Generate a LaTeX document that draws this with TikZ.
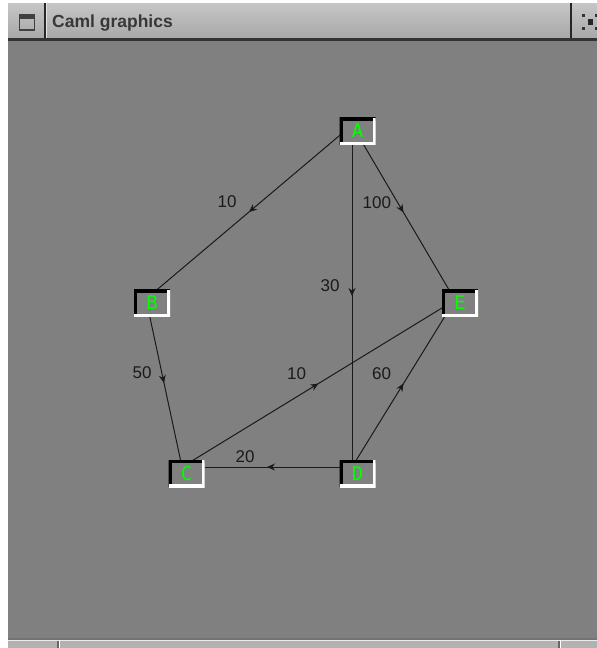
\documentclass[tikz,border=0pt]{standalone}
\usepackage{fontspec}
\setmainfont{Liberation Sans}
\newfontfamily\vertexfont{DejaVu Sans Mono}
\usetikzlibrary{arrows.meta,decorations.markings}

\definecolor{canvasgray}{HTML}{808080}
\definecolor{bartop}{HTML}{C6C6C6}
\definecolor{barbottom}{HTML}{A8A8A8}
\definecolor{bargray}{HTML}{B2B2B2}
\definecolor{nodegreen}{HTML}{00FF00}
\definecolor{inkgray}{HTML}{1A1A1A}
\definecolor{titleink}{HTML}{383838}

\tikzset{
  vertex/.style={fill=canvasgray, minimum width=36pt, minimum height=27pt, inner sep=0pt,
    text=nodegreen, font=\vertexfont\fontsize{19}{19}\selectfont,
    path picture={
      \draw[black, line width=6pt] (path picture bounding box.south west) -- (path picture bounding box.north west) -- (path picture bounding box.north east);
      \draw[white, line width=6pt] (path picture bounding box.north east) -- (path picture bounding box.south east) -- (path picture bounding box.south west);
    }},
  link/.style={draw=inkgray, line width=1pt, postaction={decorate},
    decoration={markings, mark=at position 0.5 with {\arrow{Stealth[length=8pt,width=7pt]}}}},
  weight/.style={inner sep=0pt, anchor=base east, xshift=-12pt, yshift=4.5pt,
    text=inkgray, font=\fontsize{17}{17}\selectfont}
}

\begin{document}
\begin{tikzpicture}[x=1pt, y=-1pt]
\useasboundingbox (0,0) rectangle (597,648);
\fill[white] (0,0) rectangle (597,648);

% Title bar
\shade[top color=bartop, bottom color=barbottom] (8,3) rectangle (597,38);
\fill[black!85] (44,3) rectangle (46,38);
\fill[white!90!black] (46,3) rectangle (47,38);
\draw[black!75, line width=1.5pt] (19.5,14.5) rectangle (34.5,30);
\fill[black!75] (19.5,14.5) rectangle (34.5,18.5);
\fill[black!85] (570,3) rectangle (572,38);
\fill[black!80] (582,14) rectangle (585,17);
\fill[black!80] (582,27) rectangle (585,30);
\fill[black!85] (588,19) rectangle (593,25);
\fill[black!80] (595,14) rectangle (597,17);
\fill[black!80] (595,27) rectangle (597,30);
\node[anchor=base west, inner sep=0pt, text=titleink, font=\bfseries\fontsize{17.5}{18}\selectfont] (title) at (52,27) {Caml graphics};
\fill[black!80] (8,38) rectangle (597,40.5);

% Canvas and status bar
\fill[canvasgray] (8,40.5) rectangle (597,637.5);
\fill[black!55] (8,637.5) rectangle (597,639.5);
\fill[white!92!black] (8,639.5) rectangle (597,640.5);
\fill[bargray] (8,640.5) rectangle (597,648);
\fill[black!60] (57,641) rectangle (58.5,648);
\fill[white] (58.5,641) rectangle (59.5,648);
\fill[black!60] (558,641) rectangle (559.5,648);
\fill[white] (559.5,641) rectangle (560.5,648);

% Graph points
\coordinate (pA) at (352,125);
\coordinate (pB) at (146,299);
\coordinate (pC) at (182,467);
\coordinate (pD) at (352,467);
\coordinate (pE) at (455,300);

% Edges
\draw[link] (pA) -- node[weight] (wAB) {10} (pB);
\draw[link] (pA) -- node[weight] (wAE) {100} (pE);
\draw[link] (pA) -- node[weight] (wAD) {30} (pD);
\draw[link] (pB) -- node[weight] (wBC) {50} (pC);
\draw[link] (pC) -- node[weight] (wCE) {10} (pE);
\draw[link] (pD) -- node[weight] (wDE) {60} (pE);
\draw[link] (pD) -- node[weight] (wDC) {20} (pC);

% Vertices
\node[vertex] (A) at (357.5,131) {A};
\node[vertex] (B) at (152,303) {B};
\node[vertex] (C) at (186.5,473.5) {C};
\node[vertex] (D) at (357.5,473.5) {D};
\node[vertex] (E) at (460,303) {E};

\end{tikzpicture}
\end{document}
